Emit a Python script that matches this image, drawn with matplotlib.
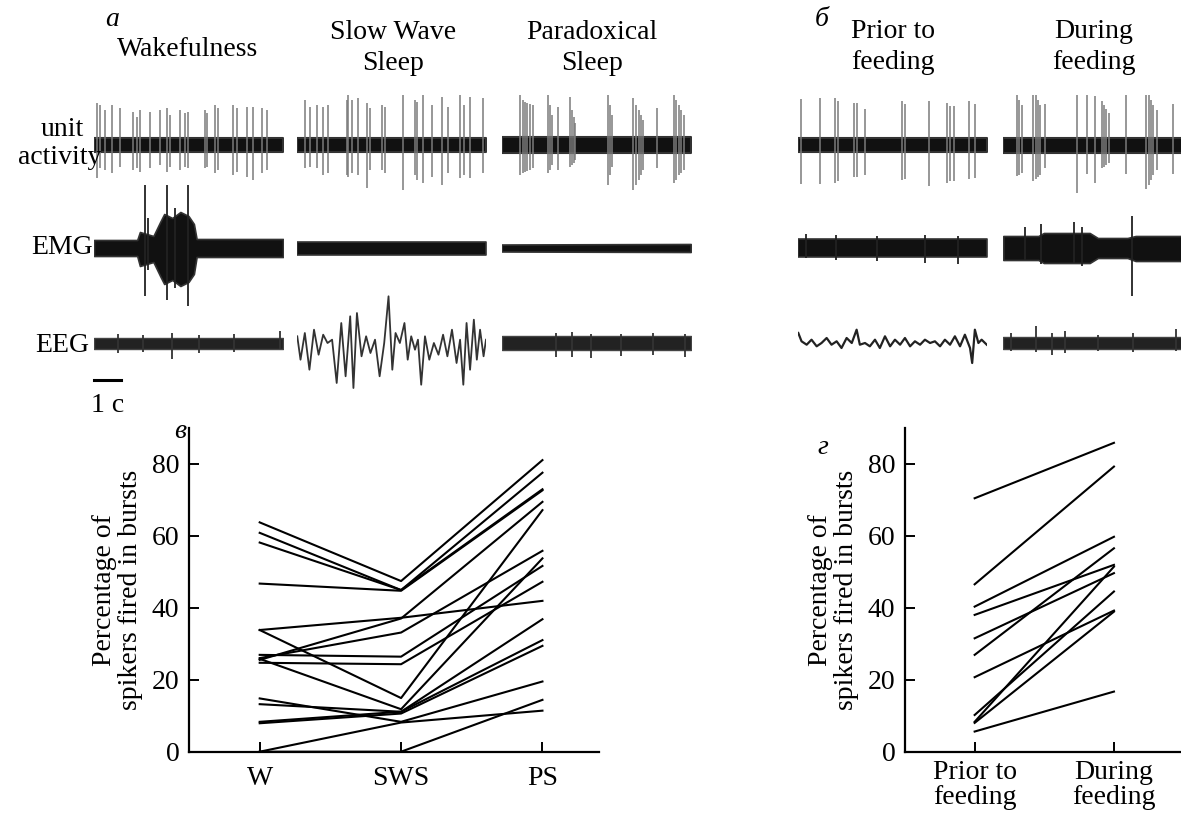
import numpy as np
import matplotlib
matplotlib.use("Agg")
import matplotlib.pyplot as plt

plt.rcParams['font.family'] = ['Liberation Serif', 'DejaVu Serif']

# ---- panel в / г data (percentage of spikes fired in bursts) ----
states = ['W', 'SWS', 'PS']
w_vals = [63.7, 60.8, 58.1, 46.7, 33.8, 33.8, 26.9, 26.0, 25.5, 25.8, 24.7, 14.8, 13.2, 8.3, 7.9, 0.0, 0.0]
sws_vals = [47.4, 44.9, 44.9, 44.7, 37.2, 14.9, 26.4, 33.1, 37.0, 11.8, 24.3, 8.3, 11.1, 11.1, 10.6, 8.1, 0.0]
ps_vals = [81.0, 77.5, 72.9, 72.6, 41.9, 67.1, 51.6, 55.8, 69.4, 53.7, 47.2, 19.5, 36.8, 31.0, 29.4, 11.4, 14.4]

feed_labels = ['Prior to\nfeeding', 'During\nfeeding']
prior_vals = [70.4, 46.5, 40.3, 38.0, 31.5, 26.9, 20.7, 10.2, 8.3, 8.0, 5.6]
during_vals = [85.8, 79.2, 59.7, 51.9, 49.6, 56.5, 39.2, 44.5, 51.4, 38.9, 16.7]

# ---- traces: unit spikes (time s, amplitude up, amplitude down) ----
wake_spikes = [(0.12, 41.7, 33.3), (0.22, 40, 23.3), (0.41, 35, 25), (0.65, 40, 28.3), (0.96, 36.7, 21.7),
               (1.46, 33.3, 25), (1.58, 28.3, 23.3), (1.7, 35, 26.7), (2.07, 33.3, 23.3), (2.44, 35, 20),
               (2.69, 36.7, 26.7), (2.81, 30, 21.7), (3.19, 35, 25), (3.37, 31.7, 21.7), (3.49, 33.3, 23.3),
               (4.11, 35, 23.3), (4.17, 31.7, 21.7), (4.48, 40, 28.3), (4.6, 36.7, 25), (5.16, 40, 30),
               (5.29, 36.7, 26.7), (5.66, 38.3, 31.7), (5.9, 38.3, 35), (6.21, 36.7, 28.3), (6.4, 35, 25)]
sws_spikes = [(0.3, 45, 23.3), (0.48, 38.3, 21.7), (0.73, 40, 23.3), (0.97, 38.3, 30), (1.16, 40, 28.3),
              (1.84, 45, 30), (1.9, 50, 31.7), (2.03, 45, 28.3), (2.27, 46.7, 30), (2.58, 41.7, 43.3),
              (2.7, 36.7, 25), (3.13, 40, 25), (3.26, 38.3, 28.3), (3.94, 51.7, 45), (4.37, 45, 30),
              (4.46, 43.3, 35), (4.66, 50, 38.3), (4.99, 40, 31.7), (5.36, 48.3, 40), (5.6, 38.3, 28.3),
              (6.04, 51.7, 33.3), (6.19, 40, 30), (6.41, 48.3, 33.3), (6.9, 46.7, 28.3)]
ps_spikes = [(0.68, 55, 30), (0.78, 45, 28), (0.86, 43, 27), (0.95, 41.7, 26), (1.05, 41, 25), (1.17, 40, 23),
             (1.73, 60, 28.3), (1.79, 40, 25), (1.85, 30, 20),
             (2.1, 38.3, 25),
             (2.53, 48.3, 21.7), (2.6, 35, 20), (2.66, 28, 18), (2.72, 22, 15),
             (3.95, 56.7, 40), (4.01, 40, 30), (4.07, 30, 22),
             (4.88, 46.7, 45), (4.97, 40, 40), (5.07, 35, 35), (5.15, 30, 30), (5.25, 25, 25),
             (5.75, 36.7, 23.3),
             (6.37, 53.3, 38.3), (6.47, 45, 35), (6.56, 40, 30), (6.64, 35, 28), (6.74, 30, 25)]
prior_spikes = [(0.09, 45.7, 39.3), (0.8, 47.3, 38.7), (1.36, 47.3, 37.7), (1.48, 44, 36), (2.06, 42.3, 32),
                (2.16, 42.3, 32), (2.47, 35.7, 30), (3.83, 44, 35.3), (3.95, 40.7, 34.3), (4.85, 44, 41),
                (5.49, 42.3, 37.7), (5.61, 39, 36), (5.76, 39, 36), (6.32, 44, 34.3), (6.54, 40.7, 32.7)]
during_spikes = [(0.5, 55.7, 31), (0.58, 45, 30), (0.69, 40, 28),
                 (1.11, 54, 36), (1.2, 50, 34), (1.27, 45, 32), (1.36, 40, 30),
                 (1.54, 40.7, 22.7), (2.72, 54, 47.7), (3.09, 52.3, 29.3), (3.4, 49, 37.7),
                 (3.65, 44, 22.7), (3.74, 40, 22), (3.81, 36, 20), (3.9, 32, 18),
                 (4.55, 60.7, 29.3),
                 (5.29, 57.3, 44.3), (5.38, 50, 40), (5.46, 45, 35), (5.56, 40, 30), (5.69, 35, 25),
                 (6.3, 40.7, 29.3)]

# ---- EMG envelopes (time s, upper, lower) and tall transients ----
wake_emg_t = [0, 1.6, 1.7, 1.95, 2.2, 2.45, 2.6, 2.9, 3.2, 3.5, 3.7, 3.8, 7.0]
wake_emg_up = [8, 8, 16, 14, 12, 26, 34, 30, 36, 32, 24, 9, 9]
wake_emg_dn = [8, 8, 18, 16, 14, 28, 36, 32, 38, 34, 26, 9, 9]
wake_emg_tr = [(1.88, 63, 48), (2.72, 63, 52), (3.47, 63, 58), (2.0, 30, 22), (3.0, 40, 40)]
sws_emg_t = [0, 7.0]
sws_emg_up = [6.5, 6.5]
sws_emg_dn = [6.5, 6.5]
ps_emg_t = [0, 7.0]
ps_emg_up = [3.5, 4.0]
ps_emg_dn = [3.5, 4.0]
prior_emg_t = [0, 7.0]
prior_emg_up = [9, 9]
prior_emg_dn = [9, 9]
prior_emg_tr = [(0.3, 14, 10), (1.4, 13, 12), (2.9, 12, 13), (4.7, 13, 15), (5.9, 12, 16)]
during_emg_t = [0, 1.3, 1.5, 3.2, 3.5, 4.6, 4.9, 7.0]
during_emg_up = [12, 12, 15, 15, 10, 10, 12, 12]
during_emg_dn = [12, 12, 15, 15, 10, 10, 13, 13]
during_emg_tr = [(0.8, 21, 12), (1.4, 24, 16), (2.6, 26, 15), (2.9, 21, 18), (4.75, 32, 48), (6.7, 21, 15)]

# ---- EEG ----
wake_eeg_t = [0, 7.0]
wake_eeg_half = [5.5, 5.5]
wake_eeg_tr = [(0.9, 9, 10), (1.8, 8, 9), (2.9, 10, 16), (3.9, 8, 10), (5.2, 9, 9), (6.9, 12, 6)]
sws_eeg_t = [0.01, 0.13, 0.29, 0.46, 0.63, 0.8, 0.97, 1.13, 1.3, 1.47, 1.64, 1.8, 1.97, 2.09, 2.22, 2.39,
             2.56, 2.72, 2.89, 3.06, 3.23, 3.39, 3.53, 3.65, 3.81, 3.98, 4.1, 4.23, 4.37, 4.48, 4.6, 4.74,
             4.9, 5.07, 5.24, 5.41, 5.57, 5.74, 5.91, 6.04, 6.16, 6.28, 6.41, 6.55, 6.66, 6.78, 6.91, 7.0]
sws_eeg_v = [6.7, -16.7, 10, -26.7, 13.3, -11.7, 8.3, 0, 3.3, -40, 20, -33.3, 26.7, -45, 30, -13.3,
             6.7, -10, 3.3, -33.3, 0, 46.7, -26.7, 10, 0, 20, -16.7, 6.7, -6.7, 3.3, -41.7, 6.7,
             -16.7, 0, -11.7, 8.3, -13.3, 13.3, -20, 3.3, -41.7, 20, -26.7, 23.3, -16.7, 13.3, -13.3, 3.3]
ps_eeg_t = [0, 7.0]
ps_eeg_half = [7, 7]
ps_eeg_tr = [(2.0, 10, 14), (2.6, 11, 14), (3.3, 9, 15), (4.4, 9, 13), (5.6, 10, 12), (6.8, 9, 14)]
prior_eeg_t = [0, 0.12, 0.31, 0.49, 0.68, 0.86, 1.05, 1.23, 1.42, 1.6, 1.79, 1.98, 2.16, 2.28, 2.47, 2.65,
               2.84, 3.02, 3.21, 3.4, 3.58, 3.77, 3.95, 4.14, 4.32, 4.51, 4.69, 4.88, 5.06, 5.25, 5.43,
               5.62, 5.8, 5.99, 6.17, 6.36, 6.44, 6.54, 6.67, 6.79, 6.98]
prior_eeg_v = [10, 1.7, -1.7, 3.3, -3.3, 0, 5, -1.7, 1.7, -5, 5, 0, 13.3, -1.7, 0, -3.3,
               3.3, -5, 6.7, -3.3, 3.3, -1.7, 5, -3.3, 1.7, -1.7, 3.3, 0, 1.7, -3.3, 3.3,
               -1.7, 6.7, -3.3, 8.3, -5, -20, 13.3, 0, 3.3, -1.7]
during_eeg_t = [0, 7.0]
during_eeg_half = [6, 6]
during_eeg_tr = [(0.3, 10, 8), (1.2, 17, 9), (1.8, 10, 12), (2.3, 12, 10), (3.5, 8, 8), (4.8, 10, 9), (6.4, 14, 8)]

W, H = 1181, 816
fig = plt.figure(figsize=(W / 100, H / 100), dpi=100)
FS = 20


def px_axes(x0, y0, w, h):
    return fig.add_axes([x0 / W, 1 - (y0 + h) / H, w / W, h / H])


def ftext(x, y, s, **kw):
    fig.text(x / W, 1 - y / H, s, **kw)


seg_x0 = [94, 297, 501.7, 798.3, 1003.3]
seg_w = 189
dur = 7.0

spike_sets = [wake_spikes, sws_spikes, ps_spikes, prior_spikes, during_spikes]
band_half = [6.7, 6.7, 8, 6.7, 7.5]
emg_sets = [(wake_emg_t, wake_emg_up, wake_emg_dn, wake_emg_tr),
            (sws_emg_t, sws_emg_up, sws_emg_dn, []),
            (ps_emg_t, ps_emg_up, ps_emg_dn, []),
            (prior_emg_t, prior_emg_up, prior_emg_dn, prior_emg_tr),
            (during_emg_t, during_emg_up, during_emg_dn, during_emg_tr)]

for i, x0 in enumerate(seg_x0):
    # unit activity
    ax = px_axes(x0, 95, seg_w, 100)
    ax.set_xlim(0, dur)
    ax.set_ylim(-50, 50)
    ax.axis('off')
    for t, up, dn in spike_sets[i]:
        ax.vlines(t, -dn, up, color='#7a7a7a', lw=1.1)
    ax.fill_between([0, dur], -band_half[i], band_half[i], color='#111111', lw=1.5, edgecolor='#333333')

    # EMG
    ax = px_axes(x0, 183, seg_w, 130)
    ax.set_xlim(0, dur)
    ax.set_ylim(-65, 65)
    ax.axis('off')
    et, eu, ed, etr = emg_sets[i]
    for t, up, dn in etr:
        ax.vlines(t, -dn, up, color='#222222', lw=1.3)
    ax.fill_between(et, [-v for v in ed], eu, color='#111111', lw=1.2, edgecolor='#333333')

# EEG rows
eeg_axes = []
for x0 in seg_x0:
    ax = px_axes(x0, 293, seg_w, 100)
    ax.set_xlim(0, dur)
    ax.set_ylim(-50, 50)
    ax.axis('off')
    eeg_axes.append(ax)

for ax, (bt, bh, btr) in zip([eeg_axes[0], eeg_axes[2], eeg_axes[4]],
                             [(wake_eeg_t, wake_eeg_half, wake_eeg_tr),
                              (ps_eeg_t, ps_eeg_half, ps_eeg_tr),
                              (during_eeg_t, during_eeg_half, during_eeg_tr)]):
    for t, up, dn in btr:
        ax.vlines(t, -dn, up, color='#333333', lw=1.3)
    ax.fill_between(bt, [-v for v in bh], bh, color='#222222', lw=1.0, edgecolor='#444444')

eeg_axes[1].plot(sws_eeg_t, sws_eeg_v, color='#333333', lw=1.3)
eeg_axes[3].plot(prior_eeg_t, prior_eeg_v, color='#222222', lw=1.6)

# scale bar 1 s
sb = eeg_axes[0]
sb.plot([0, 1], [-37, -37], color='k', lw=2.2, clip_on=False)
sb.text(0.5, -62, '1 с', ha='center', va='center', fontsize=FS, clip_on=False)

# row labels and titles
ftext(62, 130, 'unit', ha='center', va='center', fontsize=FS)
ftext(60, 157, 'activity', ha='center', va='center', fontsize=FS)
ftext(62, 248, 'EMG', ha='center', va='center', fontsize=FS)
ftext(62, 345, 'EEG', ha='center', va='center', fontsize=FS)

ftext(112, 20, 'а', ha='center', va='center', fontsize=FS, style='italic')
ftext(822, 20, 'б', ha='center', va='center', fontsize=FS, style='italic')
ftext(188, 50, 'Wakefulness', ha='center', va='center', fontsize=FS)
ftext(393, 48, 'Slow Wave\nSleep', ha='center', va='center', fontsize=FS, linespacing=1.3)
ftext(592, 48, 'Paradoxical\nSleep', ha='center', va='center', fontsize=FS, linespacing=1.3)
ftext(893, 47, 'Prior to\nfeeding', ha='center', va='center', fontsize=FS, linespacing=1.3)
ftext(1094, 47, 'During\nfeeding', ha='center', va='center', fontsize=FS, linespacing=1.3)


def style_axes(ax):
    for s in ['top', 'right']:
        ax.spines[s].set_visible(False)
    for s in ['left', 'bottom']:
        ax.spines[s].set_linewidth(1.6)
    ax.tick_params(direction='in', length=7, width=1.4, labelsize=FS)
    ax.tick_params(axis='y', pad=7)
    ax.tick_params(axis='x', pad=10)
    ax.set_ylim(0, 90)
    ax.set_yticks([0, 20, 40, 60, 80])
    ax.set_ylabel('Percentage of\nspikers fired in bursts', fontsize=FS, linespacing=1.05, labelpad=6)


# panel в
ax_b = px_axes(189, 427.7, 410, 324)
for w, s, p in zip(w_vals, sws_vals, ps_vals):
    ax_b.plot([0, 1, 2], [w, s, p], color='k', lw=1.5, clip_on=False)
ax_b.set_xlim(-0.5, 2.4)
ax_b.set_xticks(range(3))
ax_b.set_xticklabels(states)
style_axes(ax_b)
ftext(180, 432, 'в', ha='center', va='center', fontsize=FS, style='italic')

# panel г
ax_g = px_axes(905, 427.7, 278.6, 324)
for p, d in zip(prior_vals, during_vals):
    ax_g.plot([0, 1], [p, d], color='k', lw=1.5, clip_on=False)
ax_g.set_xlim(-0.5, 1.5)
ax_g.set_xticks(range(2))
ax_g.set_xticklabels(feed_labels, linespacing=1.0)
ax_g.tick_params(axis='x', pad=7)
style_axes(ax_g)
ax_g.tick_params(axis='x', pad=6)
ftext(823, 447, 'г', ha='center', va='center', fontsize=FS, style='italic')

fig.savefig('out.png', dpi=100)
